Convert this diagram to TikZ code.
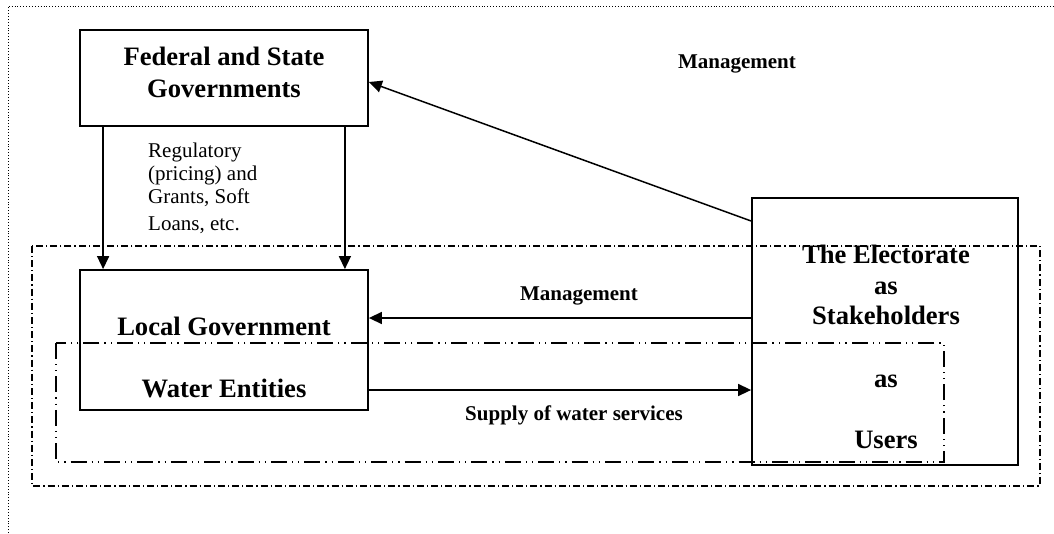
\documentclass[tikz,border=0pt]{standalone}
\usepackage{fontspec}
\setmainfont{Liberation Serif}
\usetikzlibrary{arrows.meta}
\begin{document}
\begin{tikzpicture}[x=1pt,y=-1pt,
  box/.style={draw,line width=1.8pt,inner sep=0pt},
  arr/.style={line width=1.5pt,-{Triangle[length=13pt,width=12pt]}},
  big/.style={font=\fontsize{26.6}{31}\selectfont\bfseries,inner sep=0pt,anchor=base},
  lab/.style={font=\fontsize{21}{24}\selectfont\bfseries,inner sep=0pt,anchor=base},
  reg/.style={font=\fontsize{21}{24}\selectfont,inner sep=0pt,anchor=base west},
  outerdd/.style={line width=1.3pt,dash pattern=on 7pt off 3pt on 1.2pt off 3pt},
  innerdd/.style={line width=1.3pt,dash pattern=on 16pt off 5pt on 1.2pt off 5pt on 1.2pt off 5pt},
  frame/.style={line width=0.9pt,dash pattern=on 0.9pt off 2pt}]
\useasboundingbox (0,0) rectangle (1054,533);
% outer dotted frame
\coordinate (fa) at (8,533);
\coordinate (fb) at (8,6);
\coordinate (fc) at (1054,6);
\draw[frame] (fa) -- (fb) -- (fc);
% dash-dot regions
\draw[outerdd] (32,246) rectangle (1040,486);
\draw[innerdd] (56,343) rectangle (944,462);
% boxes
\node[box,minimum width=288pt,minimum height=96pt] (fed) at (224,78) {};
\node[box,minimum width=288pt,minimum height=140pt] (loc) at (224,340) {};
\node[box,minimum width=266pt,minimum height=267pt] (elec) at (885,331.5) {};
% texts
\node[big] (t1) at (224,65) {Federal and State};
\node[big] (t2) at (224,97) {Governments};
\node[big] (t3) at (224,335) {Local Government};
\node[big] (t4) at (224,397) {Water Entities};
\node[big] (t5) at (886,263) {The Electorate};
\node[big] (t6) at (886,294) {as};
\node[big] (t7) at (886,324) {Stakeholders};
\node[big] (t8) at (886,387) {as};
\node[big] (t9) at (886,448) {Users};
\node[reg] (r1) at (148,157) {Regulatory};
\node[reg] (r2) at (148,180) {(pricing) and};
\node[reg] (r3) at (148,203) {Grants, Soft};
\node[reg] (r4) at (148,230) {Loans, etc.};
\node[lab] (m1) at (737,68) {Management};
\node[lab] (m2) at (579,300) {Management};
\node[lab] (s1) at (574,420) {Supply of water services};
% connectors
\draw[arr] ([xshift=24pt]fed.south west) -- ([xshift=24pt]loc.north west);
\draw[arr] ([xshift=-24pt]fed.south east) -- ([xshift=-24pt]loc.north east);
\coordinate (ym) at (0,318);
\coordinate (ys) at (0,390);
\coordinate (yd1) at (0,221);
\coordinate (yd2) at (0,82);
\draw[arr] (elec.west |- ym) -- (loc.east |- ym);
\draw[arr] (loc.east |- ys) -- (elec.west |- ys);
\draw[arr] (elec.west |- yd1) -- (fed.east |- yd2);
\end{tikzpicture}
\end{document}
